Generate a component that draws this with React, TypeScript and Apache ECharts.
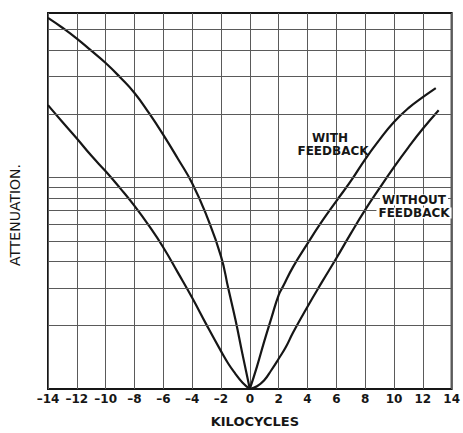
import React, { useEffect, useRef } from "react";
import * as echarts from "echarts";

// Kilocycles (x) vs attenuation (log scale, y)
const withFeedbackLeft: [number, number][] = [
  [-14, 56.9], [-13, 51.1], [-12, 45.4], [-11, 39.8], [-10, 34.8], [-9, 29.8],
  [-8, 25.1], [-7, 20.2], [-6, 15.9], [-5, 12.3], [-4, 9.4], [-3, 6.6],
  [-2, 4.24], [-1.5, 3.0], [-1, 2.13], [-0.5, 1.45], [0, 1],
];
const withFeedbackRight: [number, number][] = [
  [0, 1], [0.5, 1.28], [1, 1.68], [1.5, 2.17], [2, 2.78], [2.3, 3.05], [3, 3.78],
  [4, 4.87], [5, 6.2], [6, 7.74], [7, 9.61], [8, 12.2], [9, 15.1], [10, 18.3],
  [11, 21.3], [12, 24.0], [12.9, 26.5],
];
const withoutFeedbackLeft: [number, number][] = [
  [-14, 22.0], [-13, 18.3], [-12, 15.3], [-11, 12.7], [-10, 10.7], [-9, 8.91],
  [-8, 7.34], [-7, 5.92], [-6, 4.67], [-5, 3.56], [-4, 2.7], [-3, 2.01],
  [-2, 1.51], [-1.5, 1.32], [-1, 1.18], [-0.5, 1.07], [0, 1],
];
const withoutFeedbackRight: [number, number][] = [
  [0, 1], [0.5, 1.03], [1, 1.1], [1.5, 1.23], [2, 1.39], [2.5, 1.58], [3, 1.85],
  [4, 2.45], [5, 3.2], [6, 4.15], [7, 5.43], [8, 7.03], [9, 8.91], [10, 11.2],
  [11, 13.9], [12, 17.0], [13.1, 20.8],
];
const attenuationGridLines = [2, 3, 4, 5, 6, 7, 8, 9, 10, 20, 30, 40, 50];
const xMin = -14;
const xMax = 14;
const xStep = 2;
const yMin = 1;
const yMax = 60;

const INK = "#161616";
const GRID = "#5a5a5a";
const FONT = "DejaVu Sans";

export default function App() {
  const ref = useRef<HTMLDivElement>(null);
  useEffect(() => {
    if (!ref.current) return;
    const chart = echarts.init(ref.current, undefined, { renderer: "svg" });
    const curve = (name: string, data: [number, number][], extra: any = {}) => ({
      name,
      type: "line",
      data,
      showSymbol: false,
      smooth: 0.5,
      lineStyle: { color: INK, width: 2.2 },
      silent: true,
      z: 3,
      ...extra,
    });
    const label = (text: string, x: number, y: number, bg: boolean) => ({
      type: "text",
      x,
      y,
      z: 100,
      style: {
        text,
        fontFamily: FONT,
        fontWeight: "bold",
        fontSize: 12,
        lineHeight: 11,
        fill: INK,
        align: "center",
        verticalAlign: "middle",
        ...(bg ? { backgroundColor: "#ffffff", padding: [0, 2] } : {}),
      },
    });
    chart.setOption({
      animation: false,
      backgroundColor: "#ffffff",
      grid: {
        left: 48,
        right: 8,
        top: 13,
        bottom: 41,
        show: true,
        borderColor: INK,
        borderWidth: 2,
        backgroundColor: "transparent",
      },
      xAxis: {
        type: "value",
        min: xMin,
        max: xMax,
        interval: xStep,
        name: "KILOCYCLES",
        nameLocation: "middle",
        nameGap: 26,
        nameTextStyle: {
          fontFamily: FONT,
          fontWeight: "bold",
          fontSize: 13,
          color: INK,
          padding: [0, 0, 0, 10],
        },
        axisLine: { show: false },
        axisTick: { show: false },
        axisLabel: {
          margin: 4,
          fontFamily: FONT,
          fontWeight: "bold",
          fontSize: 12,
          color: INK,
          formatter: (v: number) => (v < 0 ? "\u2013" + Math.abs(v) : String(v)),
        },
        splitLine: { show: true, lineStyle: { color: GRID, width: 1 } },
      },
      yAxis: {
        type: "log",
        logBase: 10,
        min: yMin,
        max: yMax,
        name: "ATTENUATION.",
        nameLocation: "middle",
        nameGap: 26,
        nameTextStyle: {
          fontFamily: FONT,
          fontSize: 14,
          color: INK,
          padding: [0, 28, 0, 0],
        },
        axisLine: { show: false },
        axisTick: { show: false },
        axisLabel: { show: false },
        splitLine: { show: false },
      },
      series: [
        curve("With feedback", withFeedbackLeft, {
          markLine: {
            silent: true,
            symbol: "none",
            label: { show: false },
            lineStyle: { color: GRID, width: 1, type: "solid" },
            data: attenuationGridLines.map((v) => ({ yAxis: v })),
          },
        }),
        curve("With feedback", withFeedbackRight),
        curve("Without feedback", withoutFeedbackLeft),
        curve("Without feedback", withoutFeedbackRight),
      ],
      graphic: [
        label("WITH", 330, 138, false),
        label("FEEDBACK", 333, 151, false),
        label("WITHOUT", 414, 200, true),
        label("FEEDBACK", 414, 213, true),
      ],
    });
    return () => chart.dispose();
  }, []);
  return (
    <div
      ref={ref}
      style={{ position: "fixed", left: 0, top: 0, width: 463, height: 433, background: "#fff" }}
    />
  );
}
